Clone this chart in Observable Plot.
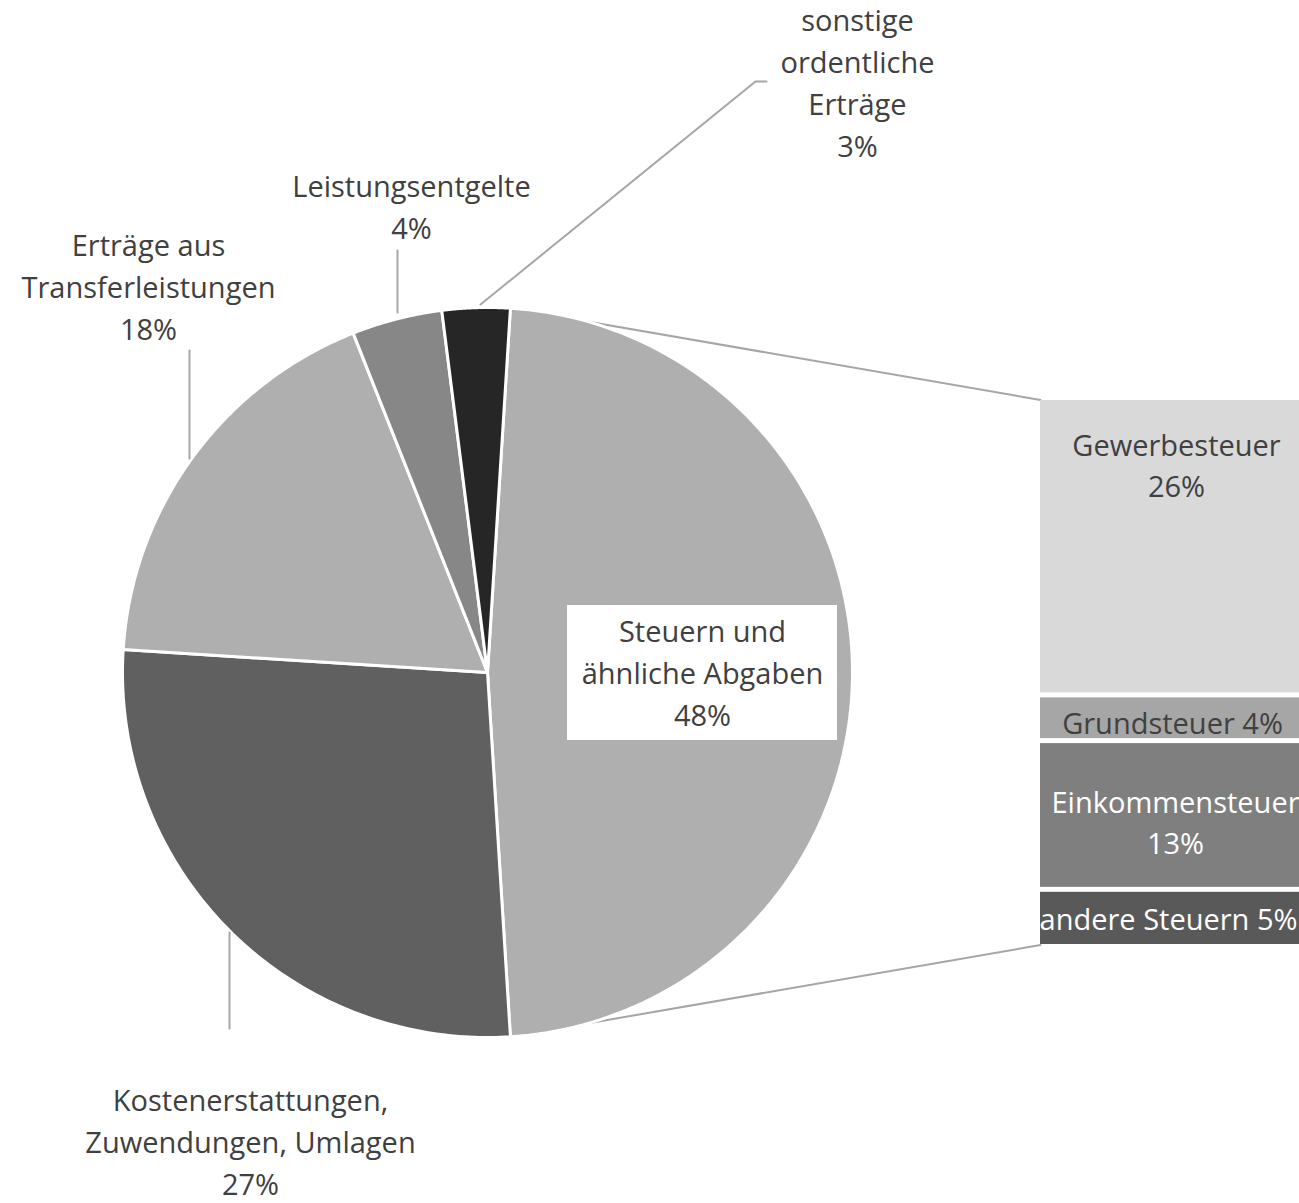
<!DOCTYPE html>
<html><head><meta charset="utf-8">
<script src="https://cdn.jsdelivr.net/npm/d3@7"></script>
<script src="https://cdn.jsdelivr.net/npm/@observablehq/plot@0.6"></script>
<style>body{margin:0;background:#fff}</style>
</head><body><div id="chart"></div>
<script>
// ---- data ----
const categories = ["Steuern und ähnliche Abgaben", "Kostenerstattungen, Zuwendungen, Umlagen", "Erträge aus Transferleistungen", "Leistungsentgelte", "sonstige ordentliche Erträge"];
const shares = [48, 27, 18, 4, 3];
const pieLabels = ["Steuern und\nähnliche Abgaben", "Kostenerstattungen,\nZuwendungen, Umlagen", "Erträge aus\nTransferleistungen", "Leistungsentgelte", "sonstige\nordentliche\nErträge"];
const pieColors = ["#afafaf", "#606060", "#afafaf", "#878787", "#262626"];

const taxCategories = ["Gewerbesteuer", "Grundsteuer", "Einkommensteuer", "andere Steuern"];
const taxShares = [26, 4, 13, 5];
const taxLabels = ["Gewerbesteuer\n26%", "Grundsteuer 4%", "Einkommensteuer\n13%", "andere Steuern 5%"];
const taxColors = ["#d9d9d9", "#a6a6a6", "#7f7f7f", "#595959"];
const taxTextColors = ["#404040", "#404040", "#ffffff", "#ffffff"];

// ---- layout ----
const W = 1299, H = 1203, cx = 487, cy = 672, R = 365;
const FONT = "Open Sans", FS = 29, TXT = "#404040", LINE = "#a6a6a6";
const barX1 = 553, barX2 = 823, barH = 549, barTop = -barH / 2;
const unit = barH / d3.sum(taxShares);

// pie angles (split slice centred on the right, as in Excel pie-of-bar)
const start = Math.PI / 2 - (shares[0] / d3.sum(shares)) * Math.PI;
const arcs = d3.pie().sort(null).startAngle(start).endAngle(start + 2 * Math.PI)(shares);
const pt = (a, r = R) => ({x: r * Math.sin(a), y: -r * Math.cos(a)});

const slicePts = [];
arcs.forEach((a, i) => {
  slicePts.push({...pt(0, 0), cat: categories[i], color: pieColors[i]});
  const n = 120;
  for (let k = 0; k <= n; k++) slicePts.push({...pt(a.startAngle + (a.endAngle - a.startAngle) * k / n), cat: categories[i], color: pieColors[i]});
  slicePts.push({...pt(0, 0), cat: categories[i], color: pieColors[i]});
});

let cum = 0;
const bars = taxShares.map((v, i) => {
  const d = {cat: taxCategories[i], y1: barTop + cum * unit, y2: barTop + (cum + v) * unit, color: taxColors[i]};
  cum += v; return d;
});

// connector lines pie -> bar
const s0 = pt(arcs[0].startAngle), s1 = pt(arcs[0].endAngle);
const connectors = [
  {id: "top", ...s0}, {id: "top", x: barX1, y: barTop + 2},
  {id: "bot", ...s1}, {id: "bot", x: barX1, y: -barTop - 2}
];

// label placement (layout, relative to pie centre)
const pieLabelPos = [[215, -2], [-237, 467], [-339, -388], [-76, -468], [370, -592]];
const pieLabelData = pieLabels.map((l, i) => ({text: l + "\n" + shares[i] + "%", x: pieLabelPos[i][0], y: pieLabelPos[i][1]}));
const taxLabelPos = [[689, -209], [685, 48], [688, 148], [681, 244]];
const taxLabelData = taxLabels.map((l, i) => ({text: l, x: taxLabelPos[i][0], y: taxLabelPos[i][1], color: taxTextColors[i]}));

const leaders = [
  {id: 4, x: -7, y: -368}, {id: 4, x: 268, y: -591}, {id: 4, x: 279, y: -591},
  {id: 3, x: -90, y: -360}, {id: 3, x: -90, y: -422},
  {id: 2, x: -298, y: -214}, {id: 2, x: -298, y: -322},
  {id: 1, x: -258, y: 356}, {id: 1, x: -258, y: 260}
];

const plot = Plot.plot({
  width: W, height: H,
  margin: 0,
  x: {domain: [-cx, W - cx], range: [0, W], axis: null},
  y: {domain: [-cy, H - cy], range: [0, H], axis: null},
  color: {type: "identity"},
  style: {fontFamily: FONT, background: "#fff"},
  marks: [
    Plot.line(connectors, {x: "x", y: "y", z: "id", stroke: LINE, strokeWidth: 2}),
    Plot.line(slicePts, {x: "x", y: "y", z: "cat", fill: "color", stroke: "#fff", strokeWidth: 3, strokeLinejoin: "round"}),
    Plot.rect(bars, {x1: () => barX1, x2: () => barX2, y1: "y1", y2: "y2", fill: "color", insetTop: 2.5, insetBottom: 2.5}),
    Plot.line(leaders, {x: "x", y: "y", z: "id", stroke: LINE, strokeWidth: 2}),
    Plot.rect([0], {x1: () => 80, x2: () => 350, y1: () => -67, y2: () => 68, fill: "#fff"}),
    Plot.text(pieLabelData, {x: "x", y: "y", text: "text", fill: TXT, fontSize: FS, lineHeight: 1.45, textAnchor: "middle", lineAnchor: "middle"}),
    Plot.text(taxLabelData, {x: "x", y: "y", text: "text", fill: "color", fontSize: FS, lineHeight: 1.42, textAnchor: "middle", lineAnchor: "middle"})
  ]
});
document.getElementById("chart").appendChild(plot);
</script>
</body></html>
